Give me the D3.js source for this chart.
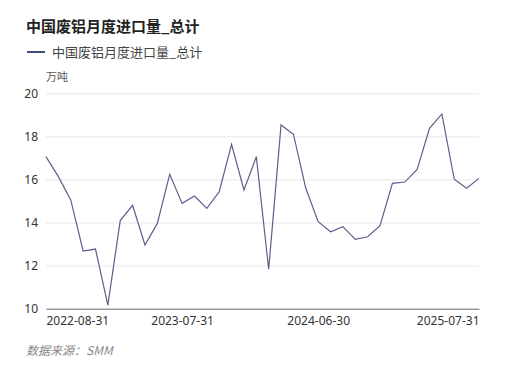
<!DOCTYPE html>
<html>
<head>
<meta charset="utf-8">
<script src="https://cdn.jsdelivr.net/npm/d3@7"></script>
<style>
  body { margin: 0; background: #fff; }
  svg { display: block; font-family: "Noto Sans CJK SC", "Noto Sans", sans-serif; }
</style>
</head>
<body>
<svg width="526" height="376"></svg>
<script>
// Data: monthly scrap aluminium imports, 10k tonnes
const dates = [
    "2022-08-31", "2022-09-30", "2022-10-31", "2022-11-30", "2022-12-31",
    "2023-01-31", "2023-02-28", "2023-03-31", "2023-04-30", "2023-05-31", "2023-06-30", "2023-07-31",
    "2023-08-31", "2023-09-30", "2023-10-31", "2023-11-30", "2023-12-31",
    "2024-01-31", "2024-02-29", "2024-03-31", "2024-04-30", "2024-05-31", "2024-06-30", "2024-07-31",
    "2024-08-31", "2024-09-30", "2024-10-31", "2024-11-30", "2024-12-31",
    "2025-01-31", "2025-02-28", "2025-03-31", "2025-04-30", "2025-05-31", "2025-06-30", "2025-07-31"
];
const values = [
    17.06, 16.13, 15.05, 12.68, 12.77,
    10.17, 14.09, 14.80, 12.96, 13.96, 16.24, 14.89,
    15.23, 14.66, 15.43, 17.63, 15.51,
    17.06, 11.83, 18.53, 18.10, 15.59, 14.04, 13.57,
    13.81, 13.22, 13.34, 13.85, 15.82,
    15.88, 16.47, 18.37, 19.04, 16.01, 15.59, 16.05
];
const xTickLabels = ["2022-08-31", "2023-07-31", "2024-06-30", "2025-07-31"];
const yTicks = [10, 12, 14, 16, 18, 20];

const seriesName = "中国废铝月度进口量_总计";
const lineColor = "#5b5f8c";

const svg = d3.select("svg");
const margin = { left: 46, right: 47, top: 93.3, bottom: 67.3 };
const width = 526 - margin.left - margin.right,
    height = 376 - margin.top - margin.bottom;

const x = d3.scalePoint().domain(dates).range([0, width]);
const y = d3.scaleLinear().domain([10, 20]).range([height, 0]);

// Title and legend
svg.append("text").attr("x", 26).attr("y", 32)
    .attr("font-size", 15).attr("font-weight", "bold").attr("fill", "#222")
    .text(seriesName);
svg.append("line").attr("x1", 27).attr("x2", 45).attr("y1", 52).attr("y2", 52)
    .attr("stroke", "#434a78").attr("stroke-width", 2);
svg.append("text").attr("x", 52).attr("y", 57)
    .attr("font-size", 13).attr("fill", "#444")
    .text(seriesName);
svg.append("text").attr("x", 46).attr("y", 81)
    .attr("font-size", 11).attr("fill", "#555").attr("text-anchor", "middle")
    .attr("dx", 11)
    .text("万吨");

const g = svg.append("g").attr("transform", `translate(${margin.left},${margin.top})`);

// Y grid + labels
const yAxis = g.append("g")
    .call(d3.axisLeft(y).tickValues(yTicks).tickSize(-width).tickPadding(8));
yAxis.select(".domain").remove();
yAxis.selectAll(".tick line").attr("stroke", "#e6e6e6");
yAxis.selectAll(".tick text").attr("fill", "#333").attr("font-size", 12)
    .attr("font-family", "'Noto Sans', sans-serif");

// X axis
const xAxis = g.append("g").attr("transform", `translate(0,${height})`)
    .call(d3.axisBottom(x).tickValues(xTickLabels).tickSize(0).tickPadding(8));
xAxis.select(".domain").attr("stroke", "#6e7079");
xAxis.selectAll(".tick text").attr("fill", "#333").attr("font-size", 12)
    .attr("font-family", "'Noto Sans', sans-serif")
    .attr("text-anchor", (d, i) => i === 0 ? "start" : (i === xTickLabels.length - 1 ? "end" : "middle"));

// Line
g.append("path")
    .datum(values)
    .attr("fill", "none")
    .attr("stroke", lineColor)
    .attr("stroke-width", 1.2)
    .attr("stroke-linejoin", "miter")
    .attr("d", d3.line().x((d, i) => x(dates[i])).y(d => y(d)));

// Source
svg.append("text").attr("x", 26).attr("y", 355)
    .attr("font-size", 12).attr("font-style", "italic").attr("fill", "#888")
    .text("数据来源：SMM");
</script>
</body>
</html>
